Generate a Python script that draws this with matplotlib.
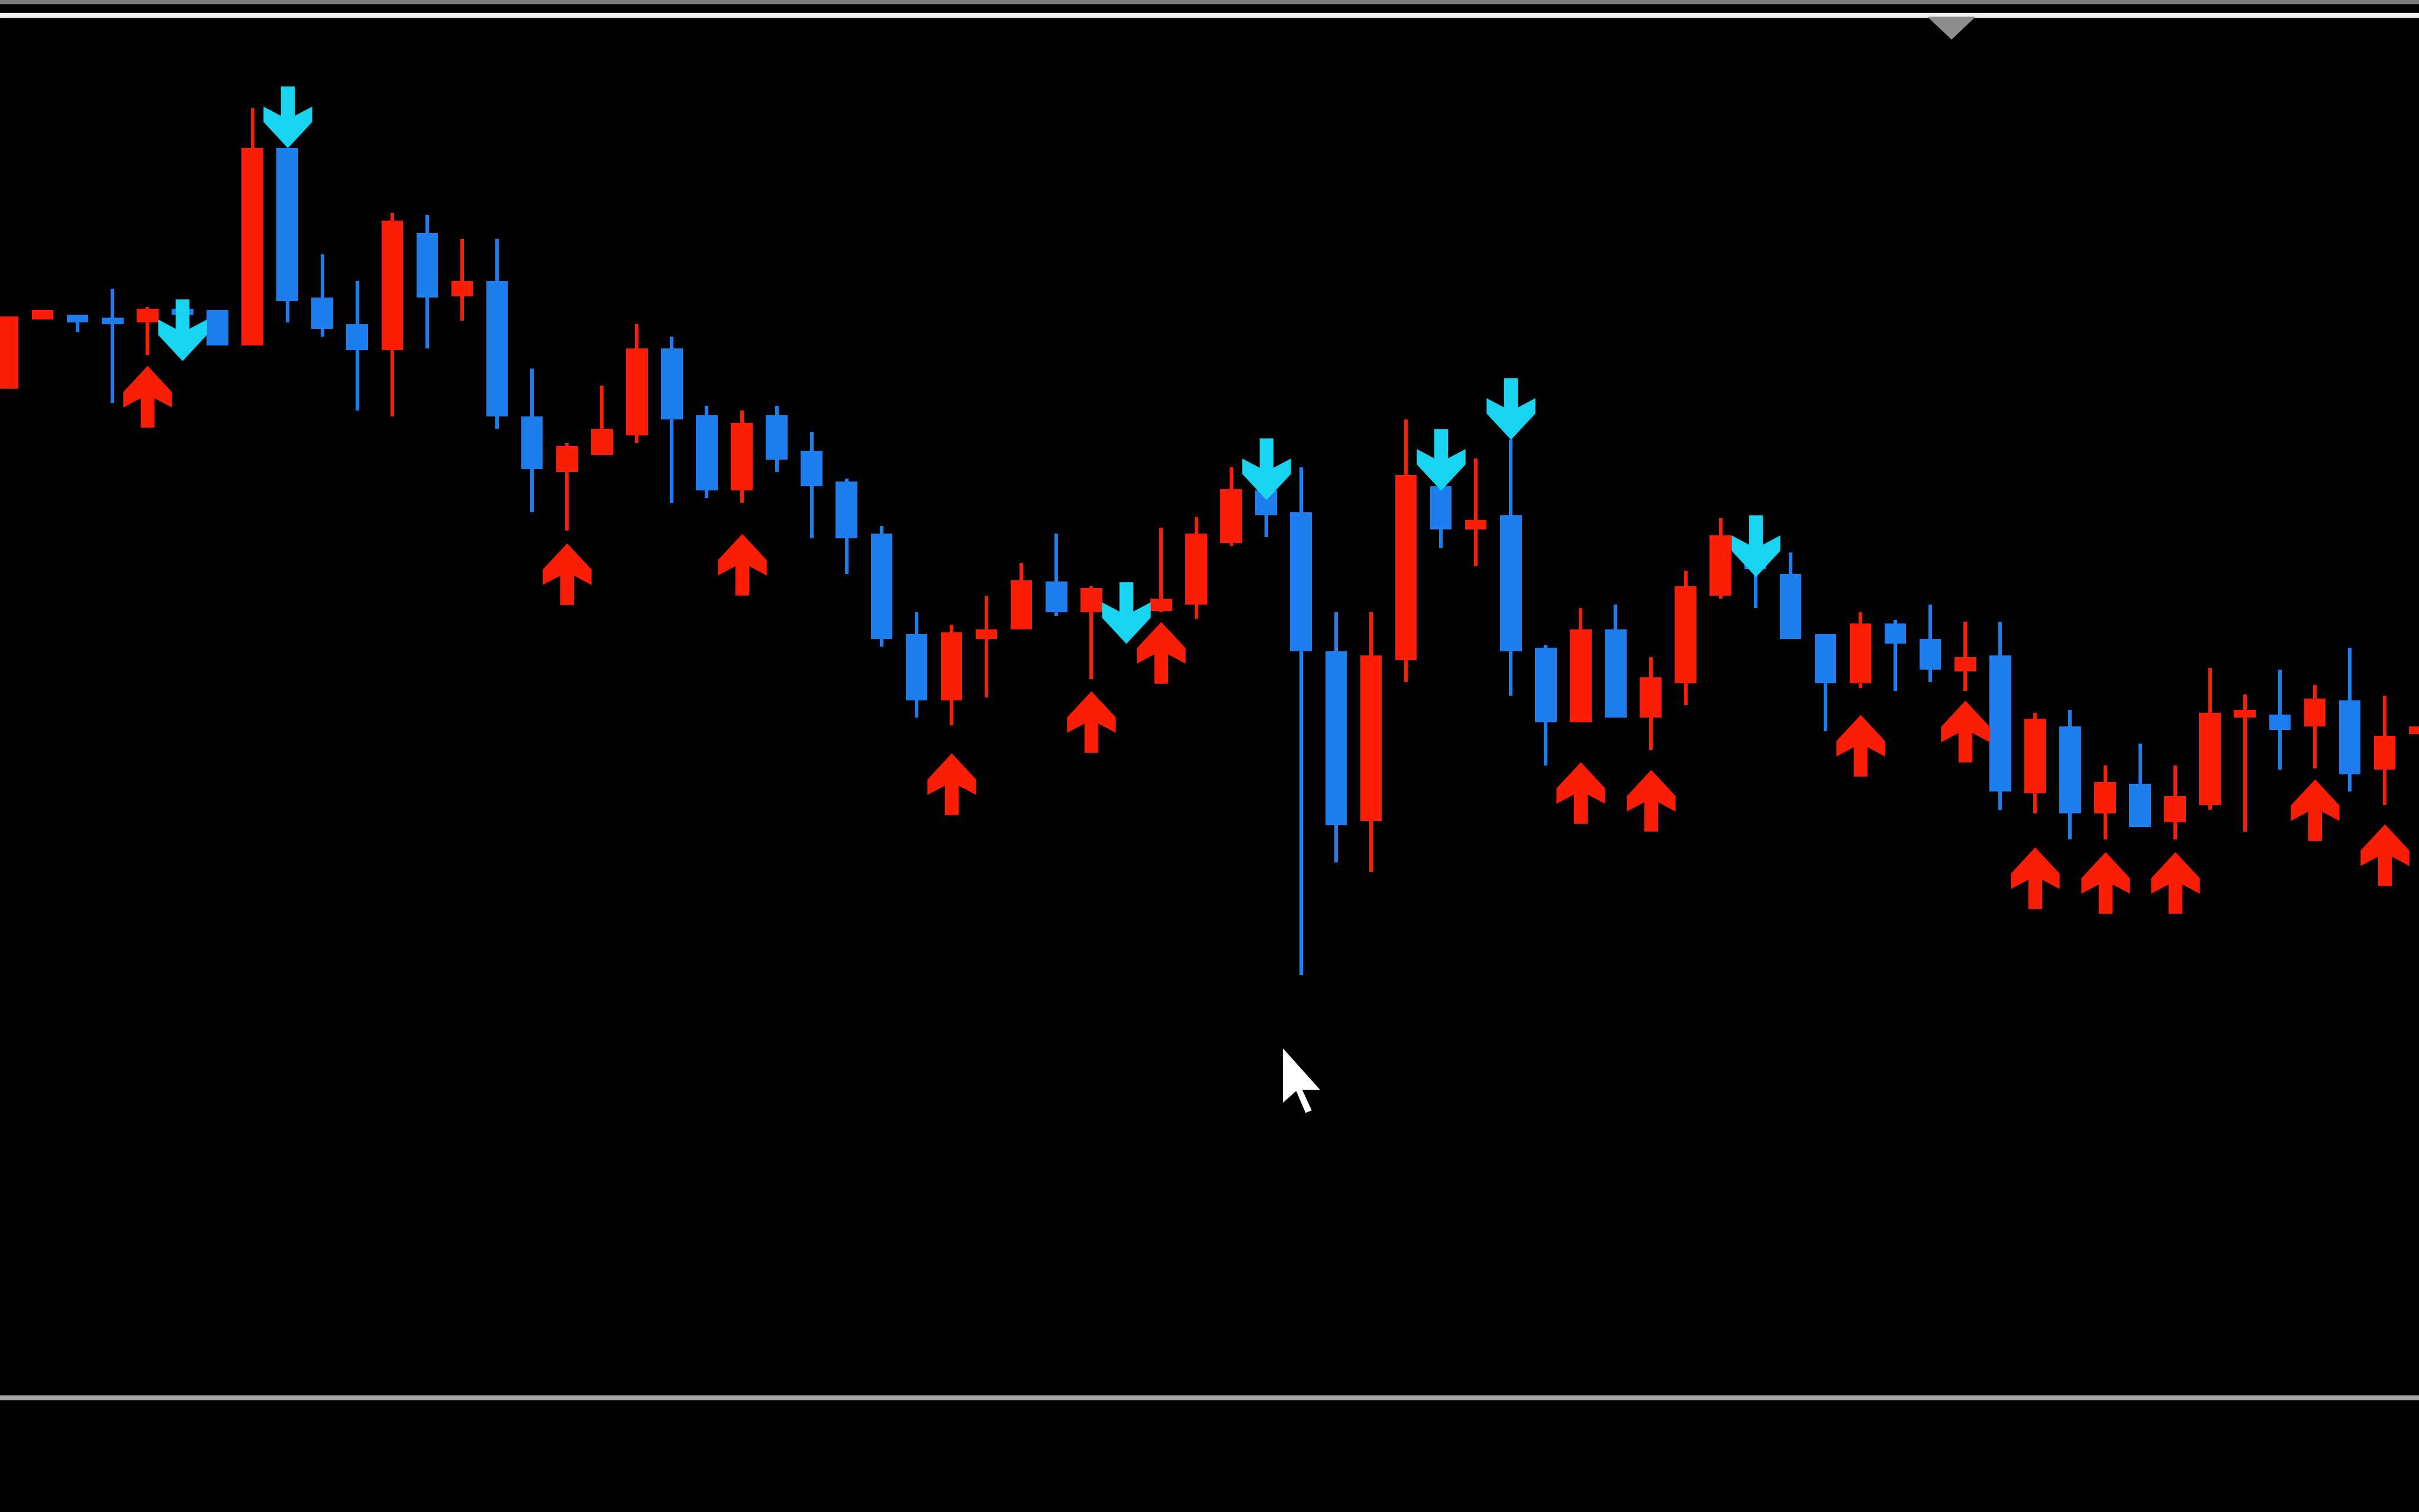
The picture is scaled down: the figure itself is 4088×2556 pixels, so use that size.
import matplotlib
matplotlib.use("Agg")
import matplotlib.pyplot as plt
from matplotlib.path import Path
from matplotlib.patches import Polygon, Rectangle

# candle data (price units, one value per bar)
opens = [748, 793, 796, 793, 791, 800, 799, 776, 904, 807,
         790, 773, 849, 808, 818, 730, 694, 705, 718, 774,
         731, 682, 731, 708, 688, 654, 589, 546, 586, 592,
         623, 603, 602, 604, 608, 648, 682, 668, 578, 468,
         572, 685, 657, 666, 580, 532, 592, 535, 557, 614,
         639, 628, 589, 557, 596, 586, 565, 575, 486, 529,
         473, 492, 467, 478, 535, 537, 529, 546, 501, 524]
closes = [795, 799, 791, 790, 800, 796, 776, 904, 805, 787,
          773, 857, 807, 818, 730, 696, 711, 722, 774, 728,
          682, 726, 702, 685, 651, 586, 546, 590, 592, 624,
          603, 619, 594, 612, 654, 683, 666, 578, 465, 575,
          692, 657, 663, 578, 532, 592, 535, 561, 620, 653,
          631, 586, 557, 596, 583, 566, 574, 487, 534, 473,
          493, 464, 484, 538, 540, 527, 547, 498, 523, 529]
highs = [795, 799, 796, 813, 801, 801, 799, 930, 904, 835,
         818, 862, 861, 845, 845, 761, 713, 750, 790, 782,
         737, 734, 737, 720, 690, 659, 603, 595, 614, 635,
         654, 620, 604, 658, 665, 697, 684, 697, 603, 603,
         728, 700, 703, 715, 582, 606, 608, 574, 630, 664,
         641, 642, 589, 603, 598, 608, 597, 597, 538, 540,
         504, 518, 504, 567, 550, 566, 556, 580, 549, 538]
lows = [748, 793, 785, 739, 770, 794, 776, 776, 791, 782,
        734, 730, 774, 792, 722, 668, 656, 705, 713, 674,
        677, 674, 694, 651, 628, 581, 535, 530, 548, 592,
        601, 560, 588, 603, 599, 646, 652, 368, 441, 435,
        558, 645, 633, 549, 504, 532, 535, 514, 543, 612,
        606, 586, 526, 554, 552, 558, 552, 475, 473, 456,
        456, 464, 456, 475, 461, 501, 502, 487, 478, 502]

# signal arrows: bar index and price of the arrow tip
buy_bars = [4, 16, 21, 27, 31, 33, 45, 47, 53, 56, 58, 60, 62, 66, 68]
buy_tips = [763, 648, 654, 512, 552, 597, 506, 501, 537, 546, 451, 448, 448, 495, 466]
sell_bars = [5, 8, 32, 36, 41, 43, 50]
sell_tips = [766, 904, 583, 676, 682, 715, 626]

RED = '#FA1E06'
BLUE = '#1F7EEE'
CYAN = '#18D4F0'

W, H = 4088, 2556
fig = plt.figure(figsize=(W / 100, H / 100), dpi=100, facecolor='black')
ax = fig.add_axes([0, 0, 1, 1])
ax.set_facecolor('black')
ax.set_xlim(-0.22, 68.98)
ax.set_ylim(20, 1000)
ax.axis('off')

n = len(opens)
xs = list(range(n))
cols = [RED if c >= o else BLUE for o, c in zip(opens, closes)]

# wicks
ax.vlines(xs, lows, highs, colors=cols, linewidth=4.4, zorder=2)

# bodies (keep dojis visible)
bottoms = [min(o, c) for o, c in zip(opens, closes)]
heights = [max(abs(c - o), 4) for o, c in zip(opens, closes)]
ax.bar(xs, heights, bottom=bottoms, width=0.62, color=cols, linewidth=0, zorder=3)

# arrow marker, tip at origin (display px units before scaling)
up_verts = [(0, 0), (15.8, -17), (15.8, -27), (4.5, -21), (4.5, -40),
            (-4.5, -40), (-4.5, -21), (-15.8, -27), (-15.8, -17), (0, 0)]
up_codes = [Path.MOVETO] + [Path.LINETO] * (len(up_verts) - 2) + [Path.CLOSEPOLY]
up_arrow = Path(up_verts, up_codes)
down_arrow = Path([(x, -y) for x, y in up_verts], up_codes)

msize = 2 * 40 * (W / 1568) * 0.72  # arrow is ~40 screen px tall
ax.plot(buy_bars, buy_tips, linestyle='none', marker=up_arrow,
        markersize=msize, color=RED, markeredgewidth=0, zorder=4)
ax.plot(sell_bars, sell_tips, linestyle='none', marker=down_arrow,
        markersize=msize, color=CYAN, markeredgewidth=0, zorder=4)

# window chrome: top bar, top border, shift marker, bottom border
fig.add_artist(Rectangle((0, 1 - 6 / H), 1, 6 / H, transform=fig.transFigure,
                         color='#7c7c7c', zorder=5))
fig.add_artist(Rectangle((0, 1 - 29 / H), 1, 7 / H, transform=fig.transFigure,
                         color='#eeeeee', zorder=5))
fig.add_artist(Polygon([(3259 / W, 1 - 29 / H), (3337 / W, 1 - 29 / H), (3298 / W, 1 - 66 / H)],
                       closed=True, transform=fig.transFigure, color='#8e8e8e', zorder=6))
fig.add_artist(Rectangle((0, 1 - 2366 / H), 1, 7 / H, transform=fig.transFigure,
                         color='#a4a4a4', zorder=5))

# mouse pointer
tipx, tipy = 831 / 1568, 1 - 678 / 980
cur = [(0, 0), (0, 38), (9, 30), (15, 44), (20, 42), (14, 29), (26, 29)]
fig.add_artist(Polygon([(tipx + dx / 1568, tipy - dy / 980) for dx, dy in cur],
                       closed=True, transform=fig.transFigure, facecolor='white',
                       edgecolor='black', linewidth=2, zorder=7))

fig.savefig('out.png', dpi=100, facecolor='black')
